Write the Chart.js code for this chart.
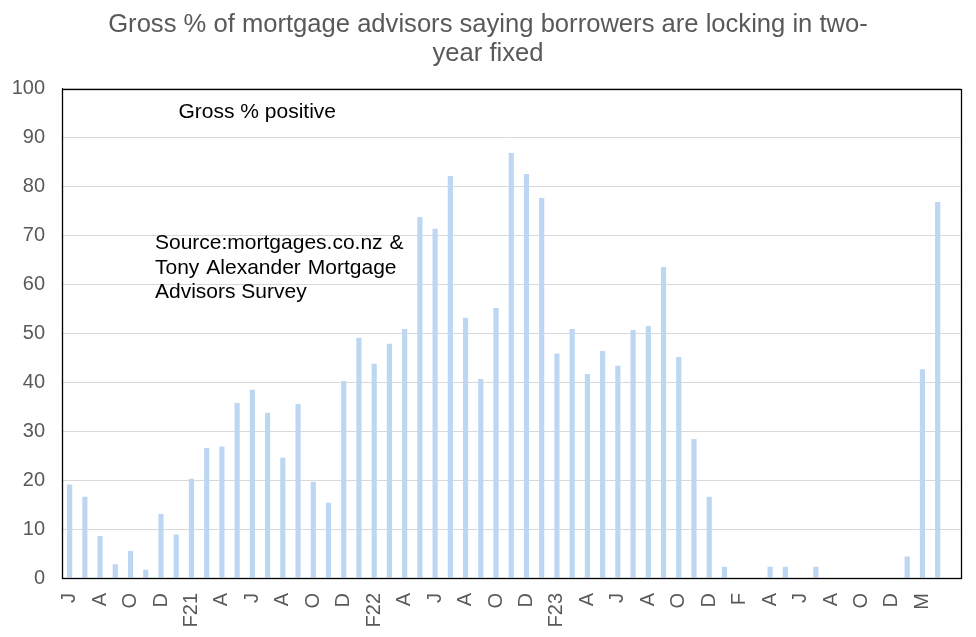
<!DOCTYPE html>
<html>
<head>
<meta charset="utf-8">
<script src="https://cdn.jsdelivr.net/npm/chart.js@4/dist/chart.umd.min.js"></script>
<style>
html,body{margin:0;padding:0;background:#fff;}
#wrap{width:976px;height:637px;position:relative;}
</style>
</head>
<body>
<div id="wrap"><canvas id="c"></canvas></div>
<script>
// Tick labels (one per monthly survey slot; blanks are unlabeled slots)
const tickLabels = ['J','','A','','O','','D','','F21','','A','','J','','A','','O','','D','',
  'F22','','A','','J','','A','','O','','D','','F23','','A','','J','','A','','O','','D','',
  'F','','A','','J','','A','','O','','D','','M','',''];
// Gross % positive
const grossPositive = [19.1,16.6,8.6,2.8,5.5,1.7,13.1,8.9,20.3,26.6,26.9,35.8,38.5,33.8,24.6,35.6,19.7,15.4,
  40.3,49.1,43.8,47.9,50.9,73.8,71.4,82.2,53.2,40.7,55.2,86.9,82.6,77.7,45.9,50.9,41.7,46.4,43.4,50.7,51.5,
  63.6,45.2,28.4,16.6,2.3,0,0,2.3,2.3,0,2.3,0,0,0,0,0,4.4,42.7,76.9,null];
const yTicks = [0,10,20,30,40,50,60,70,80,90,100];
const titleLines = ['Gross % of mortgage advisors saying borrowers are locking in two-','year fixed'];
const seriesLabel = 'Gross % positive';
const sourceLines = ['Source:mortgages.co.nz &','Tony Alexander Mortgage','Advisors Survey'];

const FONT = '"Liberation Sans", Arial, sans-serif';

const annot = {
  id:'annot',
  afterDatasetsDraw(chart){
    const ctx = chart.ctx, a = chart.chartArea;
    ctx.save();
    ctx.strokeStyle = '#000';
    ctx.lineWidth = 1.3;
    ctx.strokeRect(Math.round(a.left)+0.5, Math.round(a.top)+0.5, Math.round(a.right-a.left), Math.round(a.bottom-a.top));
    ctx.fillStyle = '#000';
    ctx.font = '21px ' + FONT;
    ctx.textBaseline = 'alphabetic';
    ctx.textAlign = 'left';
    ctx.fillText(seriesLabel, 178.5, 117.5);
    // justified source block
    const x0 = 155, lh = 24.5, y0 = 249;
    const rights = [403.5, 396.5];
    sourceLines.forEach((ln, i) => {
      const y = y0 + i*lh;
      if (i === sourceLines.length-1) { ctx.fillText(ln, x0, y); return; }
      const words = ln.split(' ');
      const tot = words.reduce((s,w)=>s+ctx.measureText(w).width,0);
      const gap = Math.max((rights[i] - x0 - tot)/(words.length-1), ctx.measureText(' ').width);
      let x = x0;
      words.forEach(w => { ctx.fillText(w, x, y); x += ctx.measureText(w).width + gap; });
    });
    ctx.restore();
  }
};

new Chart(document.getElementById('c'), {
  type:'bar',
  data:{
    labels: tickLabels,
    datasets:[{
      label: seriesLabel,
      data: grossPositive,
      backgroundColor:'#BDD7F3',
      borderWidth:0,
      barPercentage:0.34,
      categoryPercentage:1.0
    }]
  },
  options:{
    responsive:true,
    maintainAspectRatio:false,
    animation:false,
    devicePixelRatio:1,
    layout:{padding:{left:0,right:0,top:9.5,bottom:0}},
    plugins:{
      legend:{display:false},
      tooltip:{enabled:false},
      title:{
        display:true,
        text:titleLines,
        color:'#595959',
        font:{family:FONT,size:25.6,weight:'normal',lineHeight:1.17},
        padding:{top:0,bottom:19.5}
      }
    },
    scales:{
      x:{
        grid:{display:false,drawTicks:false},
        border:{display:true,color:'#000',width:1},
        ticks:{
          autoSkip:false,
          maxRotation:90,minRotation:90,
          color:'#595959',
          font:{family:FONT,size:20},
          padding:15
        },
        afterFit(s){ s.height = 59; s.paddingLeft = 0; s.paddingRight = 15.5; }
      },
      y:{
        min:0,max:100,
        afterBuildTicks(s){ s.ticks = yTicks.map(v=>({value:v})); },
        grid:{color:'#D9D9D9',lineWidth:1,drawTicks:false},
        border:{display:true,color:'#000',width:1},
        ticks:{
          color:'#595959',
          font:{family:FONT,size:20},
          padding:17
        },
        afterFit(s){ s.width = 62; }
      }
    }
  },
  plugins:[annot]
});
</script>
</body>
</html>
